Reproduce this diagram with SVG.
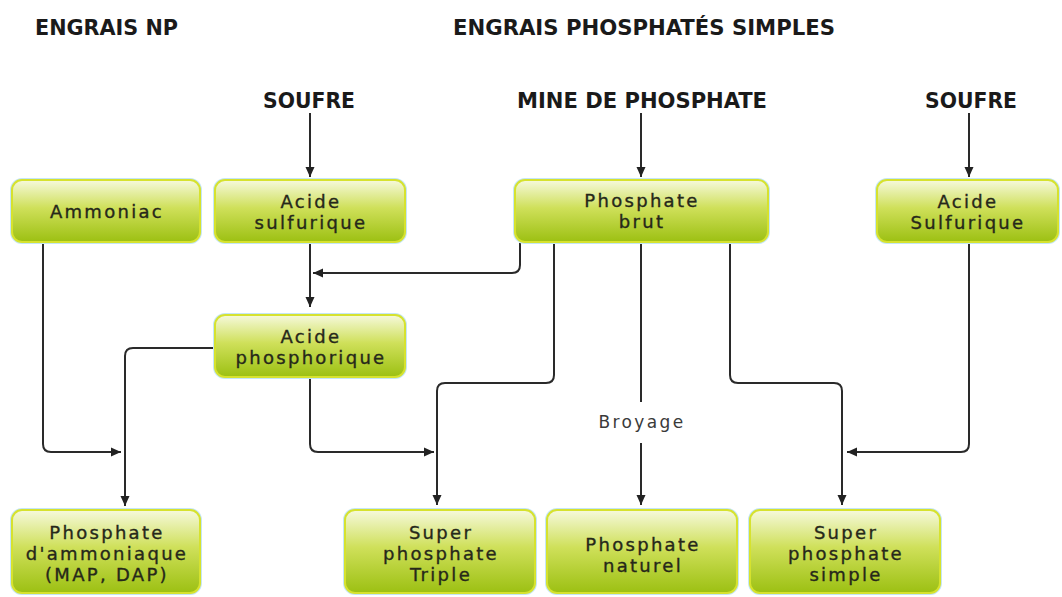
<svg xmlns="http://www.w3.org/2000/svg" width="1062" height="597" viewBox="0 0 1062 597">
<defs>
<linearGradient id="g" x1="0" y1="0" x2="0" y2="1">
<stop offset="0" stop-color="#f6f9dc"/>
<stop offset="0.45" stop-color="#cfe05a"/>
<stop offset="1" stop-color="#9cc012"/>
</linearGradient>
<marker id="ah" markerUnits="userSpaceOnUse" markerWidth="10" markerHeight="10" refX="10" refY="5" orient="auto">
<path d="M0,0.5 L10,5 L0,9.5 z" fill="#222"/>
</marker>
<style>
.box{fill:url(#g);stroke:#d6e22e;stroke-width:2}
.glow{fill:none;stroke:#c4e6f5;stroke-width:4}
.t{font-family:"DejaVu Sans",sans-serif;font-size:18px;letter-spacing:2.3px;fill:#26281a;text-anchor:middle;stroke:#26281a;stroke-width:0.35}
.h{font-family:"DejaVu Sans Condensed","DejaVu Sans",sans-serif;font-weight:bold;font-size:22px;fill:#1a1a1a}
.c{fill:none;stroke:#2a2a2a;stroke-width:2}
.lbl{font-family:"DejaVu Sans",sans-serif;font-size:17px;letter-spacing:2.4px;fill:#3a3a3a;text-anchor:middle}
</style>
</defs>
<rect width="1062" height="597" fill="#ffffff"/>

<g id="headers">
<text class="h" x="35" y="35" textLength="143" lengthAdjust="spacingAndGlyphs">ENGRAIS NP</text>
<text class="h" x="453" y="35" textLength="382" lengthAdjust="spacingAndGlyphs">ENGRAIS PHOSPHATÉS SIMPLES</text>
<text class="h" x="263" y="108" textLength="92" lengthAdjust="spacingAndGlyphs">SOUFRE</text>
<text class="h" x="517" y="108" textLength="250" lengthAdjust="spacingAndGlyphs">MINE DE PHOSPHATE</text>
<text class="h" x="925" y="108" textLength="92" lengthAdjust="spacingAndGlyphs">SOUFRE</text>
</g>

<g id="connectors">
<path class="c" marker-end="url(#ah)" d="M310,113 V177"/>
<path class="c" marker-end="url(#ah)" d="M641,113 V177"/>
<path class="c" marker-end="url(#ah)" d="M969,113 V177"/>
<path class="c" marker-end="url(#ah)" d="M43,243 V444 Q43,452 51,452 H121"/>
<path class="c" marker-end="url(#ah)" d="M215,348 H133 Q125,348 125,356 V506"/>
<path class="c" marker-end="url(#ah)" d="M310,243 V307"/>
<path class="c" marker-end="url(#ah)" d="M520,243 V265 Q520,273 512,273 H313"/>
<path class="c" marker-end="url(#ah)" d="M310,378 V444 Q310,452 318,452 H434"/>
<path class="c" marker-end="url(#ah)" d="M554,243 V375 Q554,383 546,383 H445 Q437,383 437,391 V505"/>
<path class="c" d="M641,243 V402"/>
<path class="c" marker-end="url(#ah)" d="M641,443 V505"/>
<path class="c" marker-end="url(#ah)" d="M730,243 V375 Q730,383 738,383 H834 Q842,383 842,391 V505"/>
<path class="c" marker-end="url(#ah)" d="M969,243 V444 Q969,452 961,452 H847"/>
<text class="lbl" x="642" y="428">Broyage</text>
</g>

<g id="ammoniac">
<rect class="glow" x="12" y="180" width="188" height="62" rx="10"/>
<rect class="box" x="12" y="180" width="188" height="62" rx="10"/>
<text class="t" x="107" y="218">Ammoniac</text>
</g>
<g id="acide-sulfurique">
<rect class="glow" x="215" y="180" width="190" height="62" rx="10"/>
<rect class="box" x="215" y="180" width="190" height="62" rx="10"/>
<text class="t" x="311" y="208">Acide</text>
<text class="t" x="311" y="229">sulfurique</text>
</g>
<g id="phosphate-brut">
<rect class="glow" x="515" y="180" width="253" height="62" rx="10"/>
<rect class="box" x="515" y="180" width="253" height="62" rx="10"/>
<text class="t" x="642" y="207">Phosphate</text>
<text class="t" x="642" y="228">brut</text>
</g>
<g id="acide-sulfurique-2">
<rect class="glow" x="877" y="180" width="181" height="62" rx="10"/>
<rect class="box" x="877" y="180" width="181" height="62" rx="10"/>
<text class="t" x="968" y="208">Acide</text>
<text class="t" x="968" y="229">Sulfurique</text>
</g>
<g id="acide-phosphorique">
<rect class="glow" x="215" y="315" width="190" height="62" rx="10"/>
<rect class="box" x="215" y="315" width="190" height="62" rx="10"/>
<text class="t" x="311" y="343">Acide</text>
<text class="t" x="311" y="364">phosphorique</text>
</g>
<g id="phosphate-ammoniaque">
<rect class="glow" x="12" y="510" width="188" height="83" rx="10"/>
<rect class="box" x="12" y="510" width="188" height="83" rx="10"/>
<text class="t" x="107" y="539">Phosphate</text>
<text class="t" x="107" y="560">d'ammoniaque</text>
<text class="t" x="107" y="581">(MAP, DAP)</text>
</g>
<g id="super-triple">
<rect class="glow" x="345" y="510" width="190" height="83" rx="10"/>
<rect class="box" x="345" y="510" width="190" height="83" rx="10"/>
<text class="t" x="441" y="539">Super</text>
<text class="t" x="441" y="560">phosphate</text>
<text class="t" x="441" y="581">Triple</text>
</g>
<g id="phosphate-naturel">
<rect class="glow" x="547" y="510" width="190" height="83" rx="10"/>
<rect class="box" x="547" y="510" width="190" height="83" rx="10"/>
<text class="t" x="643" y="551">Phosphate</text>
<text class="t" x="643" y="572">naturel</text>
</g>
<g id="super-simple">
<rect class="glow" x="750" y="510" width="190" height="83" rx="10"/>
<rect class="box" x="750" y="510" width="190" height="83" rx="10"/>
<text class="t" x="846" y="539">Super</text>
<text class="t" x="846" y="560">phosphate</text>
<text class="t" x="846" y="581">simple</text>
</g>
</svg>
